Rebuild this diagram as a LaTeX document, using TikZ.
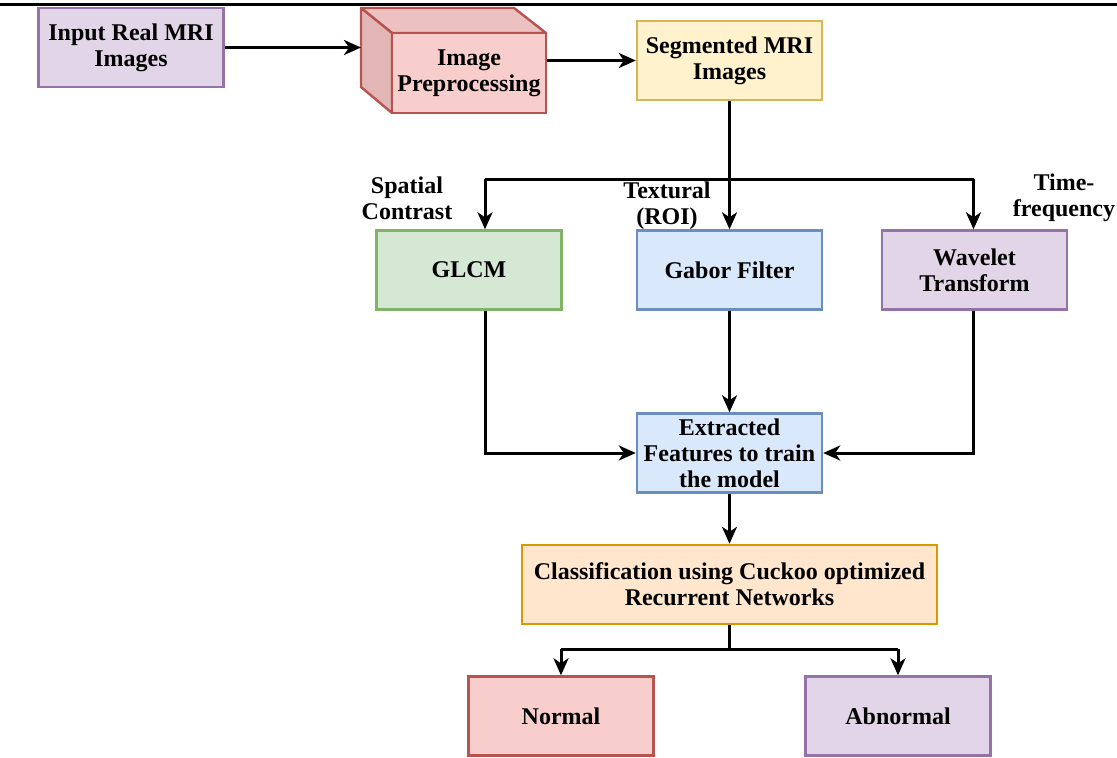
\documentclass[tikz,border=0pt]{standalone}
\usepackage{fontspec}
\setmainfont{Liberation Serif}
\usepackage{xcolor}
\usepackage{tikz}
\usetikzlibrary{arrows.meta, positioning}

\definecolor{lilacfill}{HTML}{E1D5E7}
\definecolor{lilacline}{HTML}{9673A6}
\definecolor{redfill}{HTML}{F8CECC}
\definecolor{redline}{HTML}{B85450}
\definecolor{redside}{HTML}{E2B6B5}
\definecolor{redtop}{HTML}{EBC2C1}
\definecolor{yellowfill}{HTML}{FFF2CC}
\definecolor{yellowline}{HTML}{D6B656}
\definecolor{greenfill}{HTML}{D5E8D4}
\definecolor{greenline}{HTML}{82B366}
\definecolor{bluefill}{HTML}{DAE8FC}
\definecolor{blueline}{HTML}{6C8EBF}
\definecolor{orangefill}{HTML}{FFE6CC}
\definecolor{orangeline}{HTML}{D79B00}

\tikzset{
    box/.style={draw, line width=2.4pt, minimum width=185pt, minimum height=79pt,
        inner sep=2pt, align=center, font=\fontsize{24}{26}\selectfont\bfseries},
    lbl/.style={align=center, font=\fontsize{24}{26}\selectfont\bfseries},
    conn/.style={->, line width=3pt},
    wire/.style={line width=3pt}
}

\begin{document}
\begin{tikzpicture}[x=1pt, y=-1pt, >={Stealth[length=17pt, width=15pt, inset=5pt]}]
    \useasboundingbox (0,0) rectangle (1117,758);
    % 1. Đường kẻ đầu trang
    \draw[line width=3pt] (0,4) -- (1117,4);

    % 2. Hàng trên
    \node[box, fill=lilacfill, draw=lilacline] (input) at (131,47.5) {Input Real MRI\\Images};
    \filldraw[fill=redtop, draw=redline, line width=2.4pt, line join=round]
        (361,8) -- (514,8) -- (546,33) -- (392,33) -- cycle;
    \filldraw[fill=redside, draw=redline, line width=2.4pt, line join=round]
        (361,8) -- (392,33) -- (392,113) -- (361,87) -- cycle;
    \node[box, fill=redfill, draw=redline, minimum width=154pt, minimum height=80pt] (prep) at (469,73) {Image\\Preprocessing};
    \coordinate (prepback) at (361,47.5);
    \node[box, fill=yellowfill, draw=yellowline] (seg) at (729.5,60.5) {Segmented MRI\\Images};

    % 3. Ba nhánh đặc trưng
    \node[box, fill=greenfill, draw=greenline] (glcm) at (469,270) {GLCM};
    \node[box, fill=bluefill, draw=blueline] (gabor) at (729.5,270) {Gabor Filter};
    \node[box, fill=lilacfill, draw=lilacline] (wave) at (974.5,270) {Wavelet\\Transform};
    \coordinate (split) at (729.5,179);
    \coordinate (glcmin) at ([xshift=16pt]glcm.north);
    \coordinate (glcmout) at ([xshift=16pt]glcm.south);
    \coordinate (wavein) at ([xshift=-1pt]wave.north);
    \coordinate (waveout) at ([xshift=-1pt]wave.south);

    \node[lbl] (spatial) at (407,198) {Spatial\\Contrast};
    \node[lbl] (textural) at (667,206) {Textural\\(ROI)};
    \node[lbl] (timefreq) at (1064,198) {Time-\\frequency};

    % 4. Đặc trưng và phân lớp
    \node[box, fill=bluefill, draw=blueline] (feat) at (729.5,453) {Extracted\\Features to train\\the model};
    \node[box, fill=orangefill, draw=orangeline, minimum width=415pt] (cls) at (729.5,584.5) {Classification using Cuckoo optimized\\Recurrent Networks};
    \coordinate (fork) at (729.5,649);
    \node[box, fill=redfill, draw=redline] (normal) at (561,716) {Normal};
    \node[box, fill=lilacfill, draw=lilacline] (abnormal) at (898,716) {Abnormal};

    % 5. Mũi tên
    \draw[conn] (input.east) -- (prepback);
    \draw[conn] (prep.east |- seg.west) -- (seg.west);
    \draw[wire] (seg.south) -- (split);
    \draw[wire] (split -| glcmin) -- (split -| wavein);
    \draw[conn] (split -| glcmin) -- (glcmin);
    \draw[conn] (split) -- (gabor.north);
    \draw[conn] (split -| wavein) -- (wavein);
    \draw[conn] (glcmout) |- (feat.west);
    \draw[conn] (gabor.south) -- (feat.north);
    \draw[conn] (waveout) |- (feat.east);
    \draw[conn] (feat.south) -- (cls.north);
    \draw[wire] (cls.south) -- (fork);
    \draw[wire] (fork -| normal.north) -- (fork -| abnormal.north);
    \draw[conn] (fork -| normal.north) -- (normal.north);
    \draw[conn] (fork -| abnormal.north) -- (abnormal.north);
\end{tikzpicture}
\end{document}
